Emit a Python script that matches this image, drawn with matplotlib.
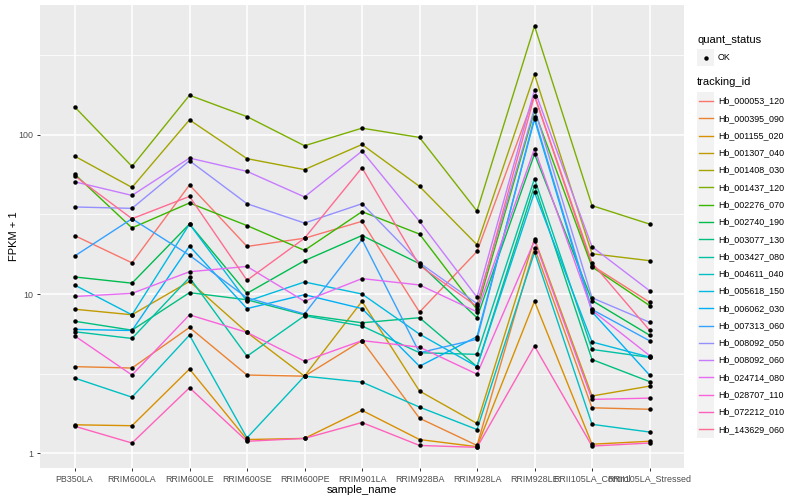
import numpy as np
import matplotlib
matplotlib.use('Agg')
import matplotlib.pyplot as plt
from matplotlib.patches import Rectangle
from matplotlib.lines import Line2D

plt.rcParams['font.family'] = ['Liberation Sans', 'DejaVu Sans']

samples = ['PB350LA', 'RRIM600LA', 'RRIM600LE', 'RRIM600SE', 'RRIM600PE', 'RRIM901LA',
           'RRIM928BA', 'RRIM928LA', 'RRIM928LE', 'RRII105LA_Control', 'RRII105LA_Stressed']

tracking_ids = ['Hb_000053_120', 'Hb_000395_090', 'Hb_001155_020', 'Hb_001307_040',
                'Hb_001408_030', 'Hb_001437_120', 'Hb_002276_070', 'Hb_002740_190',
                'Hb_003077_130', 'Hb_003427_080', 'Hb_004611_040', 'Hb_005618_150',
                'Hb_006062_030', 'Hb_007313_060', 'Hb_008092_050', 'Hb_008092_060',
                'Hb_024714_080', 'Hb_028707_110', 'Hb_072212_010', 'Hb_143629_060']

colors = ['#F8766D', '#EA8331', '#D89000', '#C09B00', '#A3A500', '#7CAE00', '#39B600',
          '#00BB4E', '#00BF7D', '#00C1A3', '#00BFC4', '#00BAE0', '#00B0F6', '#35A2FF',
          '#9590FF', '#C77CFF', '#E76BF3', '#FA62DB', '#FF62BC', '#FF6C91']

# FPKM + 1 per tracking id, one value per sample
hb_000053_120 = [23.3, 15.7, 48.4, 19.9, 22.4, 28.6, 7.7, 18.5, 176, 15.1, 8.9]
hb_000395_090 = [3.5, 3.43, 6.17, 3.1, 3.05, 5.1, 1.66, 1.12, 19.5, 1.93, 1.89]
hb_001155_020 = [1.51, 1.49, 3.38, 1.22, 1.24, 1.86, 1.22, 1.1, 9.0, 1.14, 1.19]
hb_001307_040 = [8.03, 7.41, 12.0, 5.74, 3.05, 9.0, 2.46, 1.54, 22.2, 2.29, 2.64]
hb_001408_030 = [73.5, 46.7, 124, 70.8, 60.4, 86.9, 47.4, 20.4, 239, 17.9, 16.2]
hb_001437_120 = [150, 63.3, 177, 130, 85.3, 110, 96.2, 33.2, 482, 35.9, 27.5]
hb_002276_070 = [56.7, 26, 37.3, 26.9, 18.8, 32.9, 23.8, 8.0, 141, 14.8, 8.47]
hb_002740_190 = [12.8, 11.7, 27.5, 10.1, 16.2, 23.3, 15.5, 7.1, 75.7, 9.1, 5.52]
hb_003077_130 = [6.75, 5.93, 10.2, 9.2, 7.4, 6.6, 7.1, 3.5, 48, 3.88, 2.82]
hb_003427_080 = [5.8, 5.26, 12.7, 4.07, 7.3, 6.3, 4.28, 4.18, 53, 4.49, 4.0]
hb_004611_040 = [2.97, 2.25, 5.52, 1.25, 3.05, 2.8, 1.95, 1.41, 18.3, 1.52, 1.36]
hb_005618_150 = [11.4, 7.4, 27.5, 9.0, 11.9, 10, 5.6, 3.5, 43.5, 5.0, 4.02]
hb_006062_030 = [6.0, 5.9, 20, 8.1, 9.9, 8.1, 3.52, 5.4, 125, 7.73, 3.1]
hb_007313_060 = [17.3, 29.7, 17.5, 9.47, 7.5, 22, 4.28, 5.2, 129, 8.0, 5.09]
hb_008092_050 = [35.2, 34.5, 68.7, 36.9, 27.9, 36.9, 15.7, 8.7, 146, 9.47, 6.65]
hb_008092_060 = [50.7, 41.6, 71.4, 58.9, 40.7, 79, 28.6, 9.55, 191, 19.8, 10.5]
hb_024714_080 = [9.65, 10.1, 13.8, 14.9, 9.0, 12.5, 11.4, 7.73, 81.7, 7.9, 4.11]
hb_028707_110 = [5.47, 3.1, 7.4, 5.74, 3.79, 5.1, 4.64, 3.14, 21.6, 2.18, 2.22]
hb_072212_010 = [1.48, 1.16, 2.58, 1.19, 1.24, 1.56, 1.12, 1.09, 4.71, 1.11, 1.16]
hb_143629_060 = [55.3, 29.7, 41, 12.2, 22.4, 62.1, 15.1, 8.35, 176, 15.7, 5.93]

series = [hb_000053_120, hb_000395_090, hb_001155_020, hb_001307_040, hb_001408_030,
          hb_001437_120, hb_002276_070, hb_002740_190, hb_003077_130, hb_003427_080,
          hb_004611_040, hb_005618_150, hb_006062_030, hb_007313_060, hb_008092_050,
          hb_008092_060, hb_024714_080, hb_028707_110, hb_072212_010, hb_143629_060]

W, H = 800, 500
fig = plt.figure(figsize=(8, 5), dpi=100)
ax = fig.add_axes([40 / W, 1 - 468.4 / H, 644 / W, 463.5 / H])
ax.set_facecolor('#EBEBEB')
for s in ax.spines.values():
    s.set_visible(False)

x = np.arange(len(samples))
for vals, c in zip(series, colors):
    ax.plot(x, vals, color=c, lw=1.0, zorder=3)
for vals in series:
    ax.plot(x, vals, 'o', color='black', ms=3.2, zorder=4, markeredgewidth=0)

ax.set_yscale('log')
allv = np.log10(np.concatenate([np.array(v, float) for v in series]))
lo, hi = allv.min(), allv.max()
pad = (hi - lo) * 0.05
ax.set_ylim(10 ** (lo - pad), 10 ** (hi + pad))
ax.set_xlim(-0.6, len(samples) - 1 + 0.6)

ax.set_yticks([1, 10, 100])
ax.set_yticklabels(['1', '10', '100'])
ax.set_yticks([10 ** 0.5, 10 ** 1.5, 10 ** 2.5], minor=True)
ax.yaxis.set_minor_formatter(matplotlib.ticker.NullFormatter())
ax.set_xticks(x)
ax.set_xticklabels(samples)
ax.grid(True, which='major', color='white', lw=1.1, zorder=0)
ax.grid(True, which='minor', axis='y', color='white', lw=0.55, zorder=0)
ax.set_axisbelow(True)
ax.tick_params(axis='both', which='major', length=2.5, width=0.7, color='#333333',
               labelsize=6.4, labelcolor='#4D4D4D', pad=2)
ax.tick_params(axis='y', which='minor', length=0)
ax.set_xlabel('sample_name', fontsize=8, labelpad=1)
ax.set_ylabel('FPKM + 1', fontsize=8, labelpad=0)

# legends drawn by hand in pixel positions
def fx(px):
    return px / W

def fy(py):
    return 1 - py / H

key = 17.28
kx = 697
fig.text(fx(kx), fy(40), 'quant_status', fontsize=8, va='center', ha='left')
fig.add_artist(Rectangle((fx(kx), fy(57.5 + key / 2)), key / W, key / H,
                         transform=fig.transFigure, facecolor='#F2F2F2', edgecolor='none'))
fig.add_artist(Line2D([fx(kx + key / 2)], [fy(57.5)], marker='o', ms=3.2, color='black',
                      markeredgewidth=0, transform=fig.transFigure))
fig.text(fx(718), fy(57.5), 'OK', fontsize=6.4, va='center', ha='left')

fig.text(fx(kx), fy(82), 'tracking_id', fontsize=8, va='center', ha='left')
y0 = 101
for i, (name, c) in enumerate(zip(tracking_ids, colors)):
    yc = y0 + i * key
    fig.add_artist(Rectangle((fx(kx), fy(yc + key / 2)), key / W, key / H,
                             transform=fig.transFigure, facecolor='#F2F2F2', edgecolor='none'))
    fig.add_artist(Line2D([fx(kx + 1.7), fx(kx + key - 1.7)], [fy(yc), fy(yc)], color=c,
                          lw=1.0, transform=fig.transFigure))
    fig.text(fx(718), fy(yc), name, fontsize=6.4, va='center', ha='left')

fig.savefig('out.png', dpi=100)
